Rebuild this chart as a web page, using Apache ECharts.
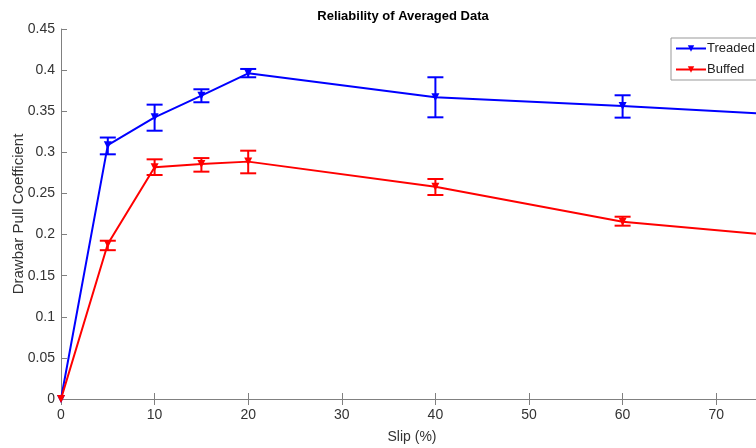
<!DOCTYPE html>
<html>
<head>
<meta charset="utf-8">
<script src="https://cdn.jsdelivr.net/npm/echarts@6/dist/echarts.min.js"></script>
<style>html,body{margin:0;padding:0;background:#fff}#c{width:756px;height:448px}</style>
</head>
<body>
<div id="c"></div>
<script>
var slip = [0, 5, 10, 15, 20, 40, 60, 80];
var treaded = [0, 0.3087, 0.3426, 0.3689, 0.3961, 0.3669, 0.3564, 0.344];
var buffed = [0, 0.1885, 0.2818, 0.2858, 0.2887, 0.2582, 0.2157, 0.195];
var errSlip = [5, 10, 15, 20, 40, 60];
var treadedLow = [0.2976, 0.3263, 0.3609, 0.3913, 0.3426, 0.3422];
var treadedHigh = [0.3180, 0.3580, 0.3767, 0.4014, 0.3913, 0.3694];
var buffedLow = [0.1810, 0.2724, 0.2765, 0.2745, 0.2481, 0.2108];
var buffedHigh = [0.1925, 0.2915, 0.2930, 0.3020, 0.2676, 0.2217];

function pairs(xs, ys) { return xs.map(function (x, i) { return [x, ys[i]]; }); }
function errData(xs, lo, hi) { return xs.map(function (x, i) { return [x, lo[i], hi[i]]; }); }

function errRender(color) {
  return function (params, api) {
    var x = api.value(0);
    var p1 = api.coord([x, api.value(1)]);
    var p2 = api.coord([x, api.value(2)]);
    var w = 8;
    var st = { stroke: color, lineWidth: 2 };
    return {
      type: 'group',
      children: [
        { type: 'line', shape: { x1: p1[0], y1: p1[1], x2: p2[0], y2: p2[1] }, style: st },
        { type: 'line', shape: { x1: p1[0] - w, y1: p1[1], x2: p1[0] + w, y2: p1[1] }, style: st },
        { type: 'line', shape: { x1: p2[0] - w, y1: p2[1], x2: p2[0] + w, y2: p2[1] }, style: st }
      ]
    };
  };
}

var chart = echarts.init(document.getElementById('c'), null, { renderer: 'canvas' });
var axisColor = '#808080';
var txt = '#333333';
var font = 'Liberation Sans, Arial, sans-serif';
chart.setOption({
  animation: false,
  backgroundColor: '#fff',
  textStyle: { fontFamily: font },
  title: {
    text: 'Reliability of Averaged Data',
    left: 398, top: 5, textAlign: 'center',
    textStyle: { fontSize: 13, fontWeight: 'bold', color: '#000', fontFamily: font }
  },
  legend: {
    orient: 'vertical',
    left: 671, top: 38,
    backgroundColor: '#fff',
    borderColor: '#999', borderWidth: 1,
    padding: [4, 8, 4, 4],
    itemWidth: 30, itemHeight: 8, itemGap: 8,
    textStyle: { fontSize: 13, color: '#222', padding: [0, 0, 0, -4] },
    data: ['Treaded', 'Buffed']
  },
  grid: { left: 61, top: 29, right: -7, bottom: 49, containLabel: false, outerBoundsMode: 'none' },
  xAxis: [{
    type: 'value', min: 0, max: 75, interval: 10,
    name: 'Slip (%)', nameLocation: 'middle', nameGap: 31, nameMoveOverlap: false,
    nameTextStyle: { fontSize: 14, color: txt },
    axisLine: { show: true, onZero: false, lineStyle: { color: axisColor, width: 1 } },
    axisTick: { show: true, inside: true, length: 6, lineStyle: { color: axisColor } },
    axisLabel: { fontSize: 14, color: txt, margin: 9, showMaxLabel: false },
    splitLine: { show: false }
  }, {
    type: 'value', min: 0, max: 75, interval: 10, position: 'top',
    axisLine: { show: true, lineStyle: { color: axisColor, width: 1 } },
    axisTick: { show: true, inside: true, length: 6, lineStyle: { color: axisColor } },
    axisLabel: { show: false },
    splitLine: { show: false }
  }],
  yAxis: {
    type: 'value', min: 0, max: 0.45, interval: 0.05,
    name: 'Drawbar Pull Coefficient', nameLocation: 'middle', nameGap: 35, nameMoveOverlap: false,
    nameTextStyle: { fontSize: 15, color: txt },
    axisLine: { show: true, lineStyle: { color: axisColor, width: 1 } },
    axisTick: { show: true, inside: true, length: 6, lineStyle: { color: axisColor } },
    axisLabel: { fontSize: 14, color: txt, margin: 6 },
    splitLine: { show: false }
  },
  series: [
    {
      name: 'Treaded', type: 'line', data: pairs(slip, treaded), clip: true,
      symbol: 'triangle', symbolRotate: 180, symbolSize: 8, showAllSymbol: true,
      itemStyle: { color: '#0000ff' }, lineStyle: { color: '#0000ff', width: 2 }, z: 3
    },
    {
      name: 'Buffed', type: 'line', data: pairs(slip, buffed), clip: true,
      symbol: 'triangle', symbolRotate: 180, symbolSize: 8, showAllSymbol: true,
      itemStyle: { color: '#ff0000' }, lineStyle: { color: '#ff0000', width: 2 }, z: 4
    },
    {
      type: 'custom', name: 'TreadedErr', data: errData(errSlip, treadedLow, treadedHigh),
      renderItem: errRender('#0000ff'), encode: { x: 0, y: [1, 2] }, z: 3, silent: true
    },
    {
      type: 'custom', name: 'BuffedErr', data: errData(errSlip, buffedLow, buffedHigh),
      renderItem: errRender('#ff0000'), encode: { x: 0, y: [1, 2] }, z: 4, silent: true
    }
  ]
});
</script>
</body>
</html>
